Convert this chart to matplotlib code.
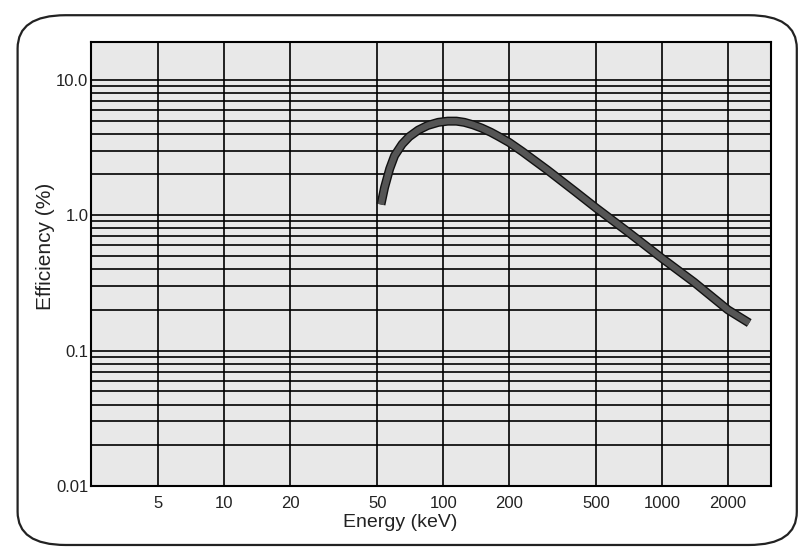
import matplotlib.pyplot as plt
import matplotlib.patheffects as pe
from matplotlib.patches import FancyBboxPatch
from matplotlib.ticker import FixedLocator, NullLocator, NullFormatter

# efficiency curve
energy = [52, 54, 57, 60, 65, 70, 77, 85, 95, 105, 115, 125, 137, 150, 165, 180,
          200, 230, 300, 400, 500, 700, 1000, 1400, 2000, 2500]
efficiency = [1.2, 1.6, 2.2, 2.75, 3.35, 3.8, 4.25, 4.6, 4.85, 4.95, 4.95, 4.85,
              4.65, 4.4, 4.1, 3.8, 3.45, 2.95, 2.15, 1.5, 1.13, 0.75, 0.48, 0.32, 0.2, 0.16]

x_ticks = [5, 10, 20, 50, 100, 200, 500, 1000, 2000]
x_labels = ['5', '10', '20', '50', '100', '200', '500', '1000', '2000']
y_ticks = [0.01, 0.1, 1.0, 10.0]
y_labels = ['0.01', '0.1', '1.0', '10.0']
y_minor = [m * d for d in (0.01, 0.1, 1.0) for m in range(2, 10)]

plt.rcParams['font.family'] = ['Liberation Sans', 'DejaVu Sans']

fig = plt.figure(figsize=(8, 5.53), dpi=100)
fig.patches.append(FancyBboxPatch((0.022, 0.0145), 0.974, 0.958,
                                  boxstyle='round,pad=0,rounding_size=0.06',
                                  transform=fig.transFigure, fill=False,
                                  edgecolor='#222222', linewidth=1.6))

ax = fig.add_axes([0.114, 0.121, 0.85, 0.803])
ax.set_xscale('log')
ax.set_yscale('log')
ax.set_xlim(2.47, 3150)
ax.set_ylim(0.01, 19)
ax.set_facecolor('#e8e8e8')

ax.xaxis.set_major_locator(FixedLocator(x_ticks))
ax.xaxis.set_minor_locator(NullLocator())
ax.set_xticklabels(x_labels)
ax.yaxis.set_major_locator(FixedLocator(y_ticks))
ax.yaxis.set_minor_locator(FixedLocator(y_minor))
ax.yaxis.set_minor_formatter(NullFormatter())
ax.set_yticklabels(y_labels)

ax.grid(True, which='major', color='black', linewidth=1.2)
ax.grid(True, which='minor', axis='y', color='black', linewidth=1.2)
ax.tick_params(which='both', length=0, labelsize=12, colors='#222222')
ax.tick_params(axis='x', pad=7)
ax.tick_params(axis='y', pad=2)
for s in ax.spines.values():
    s.set_linewidth(1.5)
    s.set_color('black')

ax.plot(energy, efficiency, color='#555555', linewidth=4.5, solid_capstyle='butt',
        path_effects=[pe.Stroke(linewidth=6.5, foreground='#111111'), pe.Normal()])

ax.set_xlabel('Energy (keV)', fontsize=14, color='#222222')
ax.set_ylabel('Efficiency (%)', fontsize=15, color='#222222')
ax.xaxis.set_label_coords(0.454, -0.062)
ax.yaxis.set_label_coords(-0.053, 0.54)

plt.savefig('out.png', dpi=100)
